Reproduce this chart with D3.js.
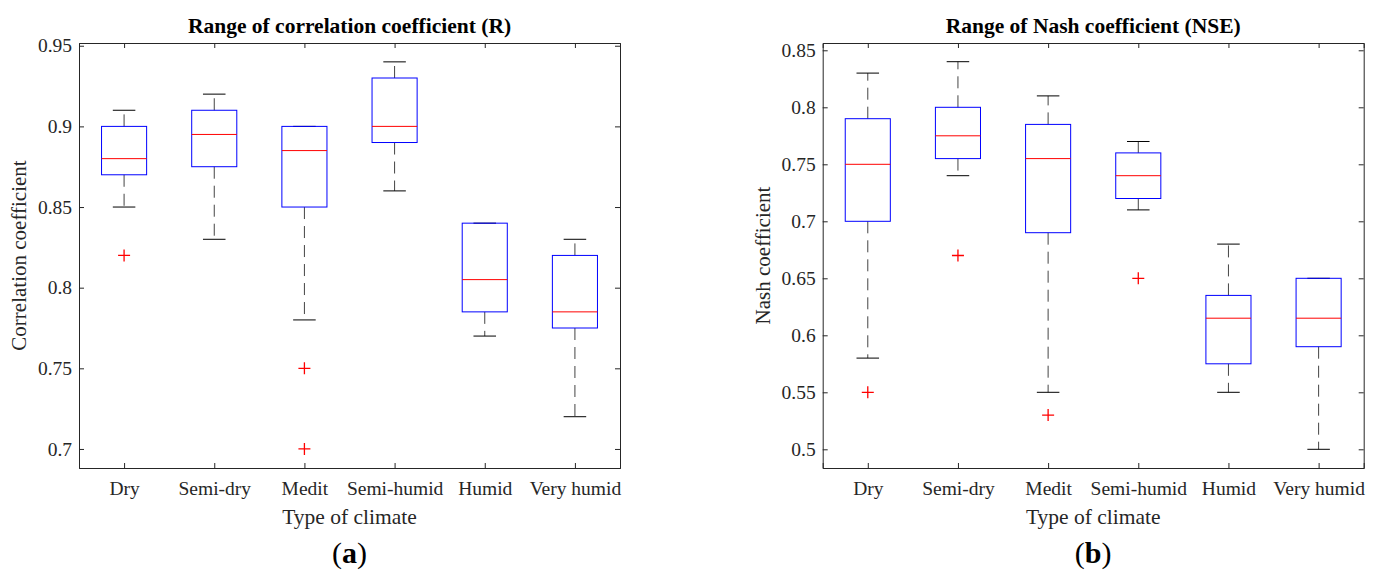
<!DOCTYPE html>
<html>
<head>
<meta charset="utf-8">
<script src="https://cdn.jsdelivr.net/npm/d3@7"></script>
<style>
  body { margin: 0; background: #fff; }
  text { font-family: "Liberation Serif", "Times New Roman", serif; }
</style>
</head>
<body>
<div id="chart"></div>
<script>
// climate types, shared by both panels
var climates = ["Dry", "Semi-dry", "Medit", "Semi-humid", "Humid", "Very humid"];

// panel (a): correlation coefficient R
var rLow    = [0.85, 0.83, 0.78, 0.86, 0.77, 0.72];
var rQ1     = [0.87, 0.875, 0.85, 0.89, 0.785, 0.775];
var rMedian = [0.88, 0.895, 0.885, 0.90, 0.805, 0.785];
var rQ3     = [0.90, 0.91, 0.90, 0.93, 0.84, 0.82];
var rHigh   = [0.91, 0.92, 0.90, 0.94, 0.84, 0.83];
var rOutliers = [[0.82], [], [0.75, 0.70], [], [], []];
var rTicks  = [0.7, 0.75, 0.8, 0.85, 0.9, 0.95];

// panel (b): Nash coefficient NSE
var nLow    = [0.58, 0.74, 0.55, 0.71, 0.55, 0.50];
var nQ1     = [0.70, 0.755, 0.69, 0.72, 0.575, 0.59];
var nMedian = [0.75, 0.775, 0.755, 0.74, 0.615, 0.615];
var nQ3     = [0.79, 0.80, 0.785, 0.76, 0.635, 0.65];
var nHigh   = [0.83, 0.84, 0.81, 0.77, 0.68, 0.65];
var nOutliers = [[0.55], [0.67], [0.53], [0.65], [], []];
var nTicks  = [0.5, 0.55, 0.6, 0.65, 0.7, 0.75, 0.8, 0.85];

var svg = d3.select("#chart")
        .append("svg")
        .attr("width", 1380)
        .attr("height", 572);

function panel(opts) {
    var left = opts.left, top = 43, width = 541, height = 425;
    var g = svg.append("g").attr("transform", "translate(" + left + "," + top + ")");

    var x = d3.scaleLinear().domain([0.5, climates.length + 0.5]).range([0, width]);
    var y = d3.scaleLinear().domain(opts.domain).range([height, 0]);
    var bw = x(1.25) - x(1);   // half box width
    var cw = x(1.125) - x(1);  // half cap width

    var fmt = function (d) { return String(+d.toFixed(2)); };

    // axes, ticks pointing inward
    var ay = g.append("g")
            .call(d3.axisLeft(y).tickValues(opts.ticks).tickFormat(fmt).tickSize(-5).tickPadding(7));
    g.append("g").attr("transform", "translate(" + width + ",0)")
            .call(d3.axisRight(y).tickValues(opts.ticks).tickFormat("").tickSize(-5));
    var ax = g.append("g").attr("transform", "translate(0," + height + ")")
            .call(d3.axisBottom(x).tickValues(d3.range(1, climates.length + 1))
                .tickFormat(function (d) { return climates[d - 1]; })
                .tickSize(-5).tickPadding(13));
    g.append("g")
            .call(d3.axisTop(x).tickValues(d3.range(1, climates.length + 1)).tickFormat("").tickSize(-5));

    g.selectAll(".domain").attr("stroke", "#262626");
    g.selectAll(".tick line").attr("stroke", "#262626");
    g.selectAll(".tick text").attr("fill", "#262626").style("font-size", "19.5px")
            .style("font-family", "'Liberation Serif', serif");
    ax.selectAll(".tick text").attr("dy", "0.71em");

    var boxes = g.selectAll(".box")
            .data(climates.map(function (c, i) {
                return {i: i + 1, low: opts.low[i], q1: opts.q1[i], med: opts.med[i],
                        q3: opts.q3[i], high: opts.high[i], out: opts.out[i]};
            }))
            .enter()
            .append("g");

    // dashed whiskers
    boxes.append("line")
            .attr("x1", function (d) { return x(d.i); })
            .attr("x2", function (d) { return x(d.i); })
            .attr("y1", function (d) { return y(d.q3); })
            .attr("y2", function (d) { return y(d.high); })
            .attr("stroke", "#444").attr("stroke-dasharray", "12,7");
    boxes.append("line")
            .attr("x1", function (d) { return x(d.i); })
            .attr("x2", function (d) { return x(d.i); })
            .attr("y1", function (d) { return y(d.q1); })
            .attr("y2", function (d) { return y(d.low); })
            .attr("stroke", "#444").attr("stroke-dasharray", "12,7");

    // whisker caps
    ["high", "low"].forEach(function (k) {
        boxes.append("line")
                .attr("x1", function (d) { return x(d.i) - cw; })
                .attr("x2", function (d) { return x(d.i) + cw; })
                .attr("y1", function (d) { return y(d[k]); })
                .attr("y2", function (d) { return y(d[k]); })
                .attr("stroke", "#000");
    });

    boxes.append("rect")
            .attr("x", function (d) { return x(d.i) - bw; })
            .attr("width", 2 * bw)
            .attr("y", function (d) { return y(d.q3); })
            .attr("height", function (d) { return y(d.q1) - y(d.q3); })
            .attr("fill", "none")
            .attr("stroke", "#0000ff");

    boxes.append("line")
            .attr("x1", function (d) { return x(d.i) - bw; })
            .attr("x2", function (d) { return x(d.i) + bw; })
            .attr("y1", function (d) { return y(d.med); })
            .attr("y2", function (d) { return y(d.med); })
            .attr("stroke", "#ff0000");

    // outliers as red plus signs
    boxes.selectAll(".out")
            .data(function (d) { return d.out.map(function (v) { return {i: d.i, v: v}; }); })
            .enter()
            .append("path")
            .attr("d", function (d) {
                var cx = x(d.i), cy = y(d.v);
                return "M" + (cx - 6) + "," + cy + "H" + (cx + 6) + "M" + cx + "," + (cy - 6) + "V" + (cy + 6);
            })
            .attr("stroke", "#ff0000").attr("stroke-width", 1.3);

    // titles and labels
    g.append("text")
            .attr("x", width / 2).attr("y", -10)
            .attr("text-anchor", "middle")
            .style("font-size", "21.5px").style("font-weight", "bold")
            .text(opts.title);
    g.append("text")
            .attr("transform", "translate(" + opts.ylabelX + "," + (height / 2) + ") rotate(-90)")
            .attr("text-anchor", "middle")
            .attr("fill", "#262626")
            .style("font-size", "21px")
            .text(opts.ylabel);
    g.append("text")
            .attr("x", width / 2).attr("y", height + 56)
            .attr("text-anchor", "middle")
            .attr("fill", "#262626")
            .style("font-size", "21.5px")
            .text("Type of climate");
    var lab = g.append("text")
            .attr("x", width / 2).attr("y", height + 95)
            .attr("text-anchor", "middle")
            .style("font-size", "30px");
    lab.append("tspan").text("(");
    lab.append("tspan").style("font-weight", "bold").text(opts.letter);
    lab.append("tspan").text(")");
}

panel({left: 79, domain: [0.6882, 0.9517], ticks: rTicks,
       low: rLow, q1: rQ1, med: rMedian, q3: rQ3, high: rHigh, out: rOutliers,
       title: "Range of correlation coefficient (R)", ylabel: "Correlation coefficient",
       ylabelX: -53, letter: "a"});

panel({left: 822.7, domain: [0.4836, 0.8564], ticks: nTicks,
       low: nLow, q1: nQ1, med: nMedian, q3: nQ3, high: nHigh, out: nOutliers,
       title: "Range of Nash coefficient (NSE)", ylabel: "Nash coefficient",
       ylabelX: -53, letter: "b"});
</script>
</body>
</html>
